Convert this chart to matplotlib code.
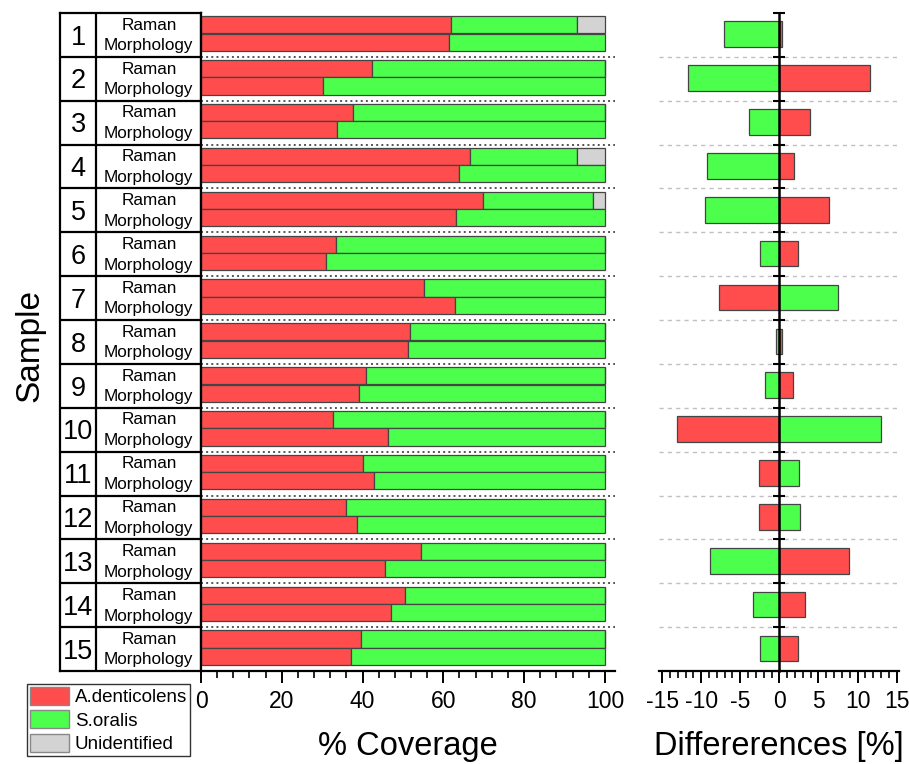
import matplotlib.pyplot as plt
from matplotlib.patches import Patch
from matplotlib.ticker import MultipleLocator
import numpy as np

plt.rcParams['font.family'] = ['Liberation Sans', 'DejaVu Sans']
plt.rcParams['axes.unicode_minus'] = False

samples = [str(i) for i in range(1, 16)]
methods = ['Raman', 'Morphology']

# % coverage
raman_aden = [61.8, 42.3, 37.6, 66.7, 69.7, 33.4, 55.2, 51.7, 40.8, 32.7, 40.1, 35.9, 54.5, 50.5, 39.7]
raman_sor = [31.4, 57.7, 62.4, 26.5, 27.3, 66.6, 44.8, 48.3, 59.2, 67.3, 59.9, 64.1, 45.5, 49.5, 60.3]
raman_unid = [6.8, 0, 0, 6.8, 3.0, 0, 0, 0, 0, 0, 0, 0, 0, 0, 0]
morph_aden = [61.5, 30.2, 33.7, 63.8, 63.1, 30.9, 62.9, 51.2, 39.1, 46.3, 42.8, 38.6, 45.5, 47.1, 37.2]
morph_sor = [38.5, 69.8, 66.3, 36.2, 36.9, 69.1, 37.1, 48.8, 60.9, 53.7, 57.2, 61.4, 54.5, 52.9, 62.8]

# differences Raman - Morphology [%]
diff_aden = [0.3, 11.6, 3.9, 1.9, 6.4, 2.4, -7.7, 0.3, 1.8, -13.1, -2.6, -2.6, 8.9, 3.3, 2.4]
diff_sor = [-7.1, -11.7, -3.9, -9.3, -9.5, -2.5, 7.5, -0.4, -1.9, 13.0, 2.5, 2.6, -8.9, -3.4, -2.5]

red = '#ff4d4d'
green = '#4dff4d'
grey = '#d3d3d3'
edge = '#444444'

W, H = 909, 764
fig = plt.figure(figsize=(W / 100, H / 100), dpi=100)

def box(x0, x1, ytop=13, ybot=671):
    return [x0 / W, 1 - ybot / H, (x1 - x0) / W, (ybot - ytop) / H]

ax_tab = fig.add_axes(box(60, 201))
ax = fig.add_axes(box(201, 615))
ax_d = fig.add_axes(box(659, 899))

n = len(samples)
idx = np.arange(n)

# --- table with sample numbers and method names
ax_tab.set_xlim(0, 1)
ax_tab.set_ylim(n, 0)
ax_tab.set_xticks([])
ax_tab.set_yticks([])
for s in ax_tab.spines.values():
    s.set_linewidth(1.6)
ax_tab.axvline(0.255, color='black', lw=1.6)
for i in range(1, n):
    ax_tab.axhline(i, color='black', lw=1.6)
for i, lab in enumerate(samples):
    ax_tab.text(0.128, i + 0.72, lab, ha='center', va='baseline', fontsize=19.5)
    ax_tab.text(0.63, i + 0.38, methods[0], ha='center', va='baseline', fontsize=12.3)
    ax_tab.text(0.63, i + 0.85, methods[1], ha='center', va='baseline', fontsize=12.3)

# --- stacked coverage bars
y_r = idx + 0.27
y_m = idx + 0.665
h = 0.39
kw = dict(height=h, edgecolor=edge, linewidth=0.9)
ax.barh(y_r, raman_aden, color=red, **kw)
ax.barh(y_r, raman_sor, left=raman_aden, color=green, **kw)
ax.barh(y_r, raman_unid, left=np.add(raman_aden, raman_sor), color=grey, **kw)
ax.barh(y_m, morph_aden, color=red, **kw)
ax.barh(y_m, morph_sor, left=morph_aden, color=green, **kw)
for i in range(1, n):
    ax.axhline(i, color='#555555', ls=':', lw=1.4)

ax.set_xlim(0, 102.5)
ax.set_ylim(n, 0)
ax.set_yticks([])
ax.spines['top'].set_visible(False)
ax.spines['right'].set_visible(False)
ax.spines['bottom'].set_linewidth(1.6)
ax.spines['left'].set_linewidth(1.6)
ax.xaxis.set_major_locator(MultipleLocator(20))
ax.xaxis.set_minor_locator(MultipleLocator(4))
ax.tick_params(axis='x', which='major', length=8.5, width=1.4, labelsize=16.5, pad=5)
ax.tick_params(axis='x', which='minor', length=5, width=1.2)
ax.set_xlabel('% Coverage', fontsize=23.5, labelpad=13)

# --- differences
y_d = idx + 0.485
ax_d.barh(y_d, diff_aden, height=0.585, color=red, edgecolor=edge, linewidth=0.9)
ax_d.barh(y_d, diff_sor, height=0.585, color=green, edgecolor=edge, linewidth=0.9)
for i in range(1, n):
    ax_d.axhline(i, color='#c0c0c0', ls=(0, (3, 3)), lw=1, zorder=0)

ax_d.set_xlim(-15.4, 15.3)
ax_d.set_ylim(n, 0)
ax_d.spines['top'].set_visible(False)
ax_d.spines['right'].set_visible(False)
ax_d.spines['left'].set_position(('data', 0))
ax_d.spines['left'].set_linewidth(1.8)
ax_d.spines['bottom'].set_linewidth(1.6)
ax_d.set_yticks(np.arange(n + 1))
ax_d.tick_params(axis='y', direction='inout', length=8.5, width=1.5, labelleft=False)
ax_d.xaxis.set_major_locator(MultipleLocator(5))
ax_d.xaxis.set_minor_locator(MultipleLocator(1))
ax_d.tick_params(axis='x', which='major', length=8.5, width=1.4, labelsize=16.5, pad=5)
ax_d.tick_params(axis='x', which='minor', length=5, width=1.2)
ax_d.set_xlabel('Differerences [%]', fontsize=23.5, labelpad=13)

fig.text(30 / W, 1 - 345 / H, 'Sample', rotation=90, ha='center', va='center', fontsize=24)

handles = [Patch(facecolor=red, edgecolor='#888888', label='A.denticolens'),
           Patch(facecolor=green, edgecolor='#888888', label='S.oralis'),
           Patch(facecolor=grey, edgecolor='#888888', label='Unidentified')]
leg = fig.legend(handles=handles, loc='upper left', bbox_to_anchor=(27 / W, 1 - 684 / H),
                 fontsize=13.5, frameon=True, fancybox=False, handlelength=2.1, handleheight=1.1,
                 labelspacing=0.22, borderpad=0.15, handletextpad=0.3, borderaxespad=0)
leg.get_frame().set_edgecolor('black')
leg.get_frame().set_linewidth(1.0)

plt.savefig('out.png', dpi=100)
